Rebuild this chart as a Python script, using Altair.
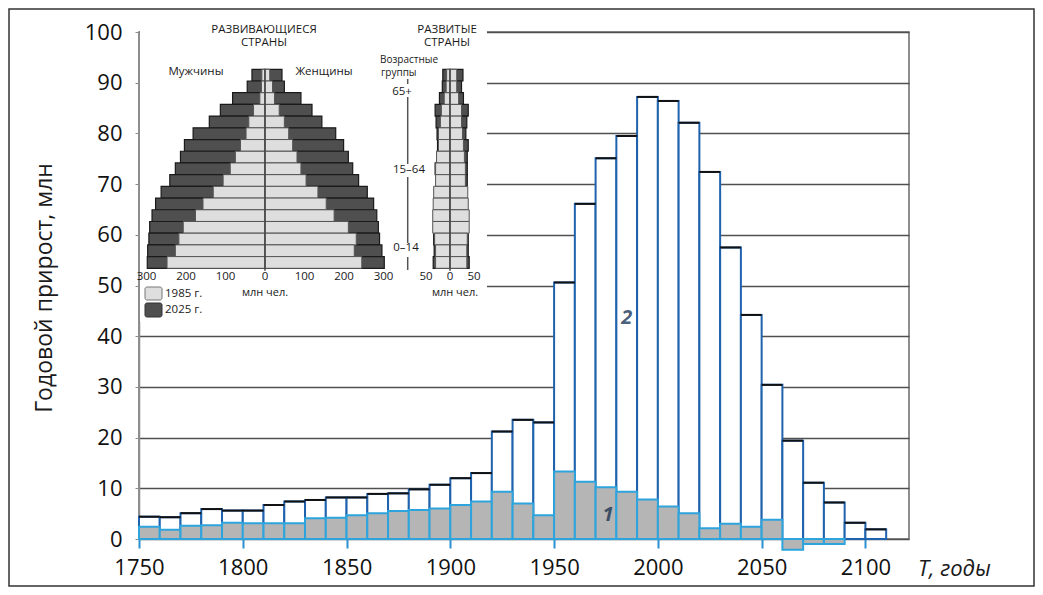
import altair as alt
import pandas as pd

FONT = "Open Sans"

# ---------------- main histogram data (annual growth, mln, by decade) ----------------
decades = list(range(1750, 2110, 10))
total_growth = [4.4, 4.3, 5.1, 5.9, 5.6, 5.6, 6.7, 7.4, 7.7, 8.2, 8.2, 8.9, 9.0, 9.8, 10.7, 12.0, 13.0, 21.2,
                23.5, 23.0, 50.6, 66.1, 75.1, 79.5, 87.2, 86.4, 82.1, 72.4, 57.5, 44.2, 30.4, 19.4, 11.1, 7.2,
                3.2, 1.9]
part_decades = list(range(1750, 2090, 10))
part_growth = [2.4, 1.8, 2.6, 2.7, 3.2, 3.1, 3.1, 3.1, 4.1, 4.2, 4.7, 5.1, 5.5, 5.7, 6.0, 6.7, 7.4, 9.3,
               7.0, 4.7, 13.3, 11.3, 10.2, 9.3, 7.8, 6.4, 5.1, 2.1, 3.0, 2.4, 3.8, -2.1, -1.0, -1.0]
x_ticks = [1750, 1800, 1850, 1900, 1950, 2000, 2050, 2100]
y_ticks = [0, 10, 20, 30, 40, 50, 60, 70, 80, 90, 100]

# ---------------- age pyramids (mln people) ----------------
age_groups = ["80+", "75–79", "70–74", "65–69", "60–64", "55–59", "50–54", "45–49", "40–44",
              "35–39", "30–34", "25–29", "20–24", "15–19", "10–14", "5–9", "0–4"]
devg_m_1985 = [8, 9, 13, 29, 41, 48, 62, 75, 88, 106, 131, 157, 176, 207, 218, 227, 248]
devg_m_2025 = [33, 45, 82, 113, 141, 182, 204, 214, 227, 241, 263, 277, 286, 292, 294, 297, 298]
devg_f_1985 = [12, 19, 24, 36, 49, 60, 70, 81, 91, 104, 134, 155, 175, 211, 231, 226, 245]
devg_f_2025 = [43, 49, 91, 119, 144, 179, 199, 211, 222, 237, 259, 275, 283, 287, 290, 296, 302]

devd_m_1985 = [7, 8, 12, 18, 20, 24, 24, 28, 30, 30, 34, 35, 36, 36, 32, 30, 30]
devd_m_2025 = [15, 16, 22, 31, 29, 27, 26, 27, 31, 27, 30, 31, 33, 32, 34, 33, 35]
devd_f_1985 = [14, 14, 18, 24, 24, 26, 28, 30, 32, 32, 37, 38, 40, 40, 36, 35, 35]
devd_f_2025 = [27, 24, 28, 38, 35, 33, 38, 36, 36, 36, 33, 34, 35, 36, 38, 38, 40]

devg_ticks = [-300, -200, -100, 0, 100, 200, 300]
devd_ticks = [-50, 0, 50]

dummy = pd.DataFrame({"k": [0]})

# ---------------- main chart ----------------
main_df = pd.DataFrame({"start": decades, "end": [d + 10 for d in decades], "value": total_growth})
main_df["base"] = 0
part_df = pd.DataFrame({"start": part_decades, "end": [d + 10 for d in part_decades], "value": part_growth})
part_df["base"] = 0


def xs():
    return alt.Scale(domain=[1750, 2121], nice=False, zero=False)


def ys():
    return alt.Scale(domain=[0, 100], nice=False, zero=False)


x_axis = alt.Axis(values=x_ticks, format="d", title=None, grid=False, domain=False, ticks=True,
                  tickColor="#2b8fd2", tickWidth=2, tickSize=9, labelFont=FONT, labelFontSize=22,
                  labelColor="#111", labelPadding=19, labelBaseline="middle", labelFlush=False,
                  labelOverlap=False)
y_axis = alt.Axis(values=y_ticks, title=None, grid=True, gridColor="#505050", gridWidth=1.5,
                  domain=True, domainColor="#8c8c8c", domainWidth=1.5, ticks=True, tickColor="#8c8c8c",
                  tickSize=4, labelFont=FONT, labelFontSize=22, labelColor="#111", labelPadding=13,
                  labelFlush=False)

outer = alt.Chart(main_df).mark_rect(fill="white", stroke="#1f62ad", strokeWidth=2).encode(
    x=alt.X("start:Q", scale=xs(), axis=x_axis), x2="end",
    y=alt.Y("value:Q", scale=ys(), axis=y_axis), y2="base")
tops = alt.Chart(main_df).mark_rule(color="#111", strokeWidth=2).encode(
    x=alt.X("start:Q", scale=xs(), axis=None), x2="end", y=alt.Y("value:Q", scale=ys(), axis=None))
inner = alt.Chart(part_df).mark_rect(fill="#b5b5b5", stroke="#2ea4dd", strokeWidth=2).encode(
    x=alt.X("start:Q", scale=xs(), axis=None), x2="end",
    y=alt.Y("value:Q", scale=ys(), axis=None), y2="base")
lab2 = alt.Chart(dummy).mark_text(text="2", font=FONT, fontSize=20, fontStyle="italic", fontWeight="bold",
                                  color="#4b607a").encode(x=alt.XDatum(1985, scale=xs(), axis=None),
                                                          y=alt.YDatum(43.6, scale=ys(), axis=None))
lab1 = alt.Chart(dummy).mark_text(text="1", font=FONT, fontSize=20, fontStyle="italic", fontWeight="bold",
                                  color="#3d4f66").encode(x=alt.XDatum(1976, scale=xs(), axis=None),
                                                          y=alt.YDatum(4.7, scale=ys(), axis=None))


# ---------------- pyramids ----------------
def pyramid_df(m85, m25, f85, f25):
    rows = []
    for i, age in enumerate(age_groups):
        rows.append(dict(age=age, row=i, row2=i + 1, year="2025", lo=-m25[i], hi=0))
        rows.append(dict(age=age, row=i, row2=i + 1, year="2025", lo=0, hi=f25[i]))
        rows.append(dict(age=age, row=i, row2=i + 1, year="1985", lo=-m85[i], hi=0))
        rows.append(dict(age=age, row=i, row2=i + 1, year="1985", lo=0, hi=f85[i]))
    return pd.DataFrame(rows)


def pyramid(df, xdomain, xrange, ticks):
    def sx():
        return alt.Scale(domain=xdomain, range=xrange, nice=False, zero=False)

    def sy():
        return alt.Scale(domain=[0, 17], range=[37.3, 236.3], nice=False, zero=False)

    base = alt.Chart(df)
    dark = base.transform_filter(alt.datum.year == "2025").mark_rect(
        fill="#4f4f4f", stroke="#1a1a1a", strokeWidth=1.2).encode(
        x=alt.X("lo:Q", scale=sx(), axis=None), x2="hi",
        y=alt.Y("row:Q", scale=sy(), axis=None), y2="row2")
    light = base.transform_filter(alt.datum.year == "1985").mark_rect(
        fill="#dedede", stroke="#555", strokeWidth=1).encode(
        x=alt.X("lo:Q", scale=sx(), axis=None), x2="hi",
        y=alt.Y("row:Q", scale=sy(), axis=None), y2="row2")
    centre = alt.Chart(dummy).mark_rule(color="#444", strokeWidth=1.5).encode(
        x=alt.XDatum(0, scale=sx(), axis=None), y=alt.YDatum(0, scale=sy(), axis=None),
        y2=alt.Y2Datum(17.2))
    tdf = pd.DataFrame({"v": ticks, "lab": [str(abs(t)) for t in ticks]})
    tlabels = alt.Chart(tdf).mark_text(font=FONT, fontSize=11.5, color="#1a1a1a").encode(
        x=alt.X("v:Q", scale=sx(), axis=None), y=alt.YDatum(17.75, scale=sy(), axis=None), text="lab:N")
    return [dark, light, centre, tlabels]


devg = pyramid(pyramid_df(devg_m_1985, devg_m_2025, devg_f_1985, devg_f_2025), [-300, 300], [7.5, 244.5],
               devg_ticks)
devd = pyramid(pyramid_df(devd_m_1985, devd_m_2025, devd_f_1985, devd_f_2025), [-50, 50], [287, 335],
               devd_ticks)


# ---------------- decorations and texts ----------------
def txt(s, x, y, size=11.5, align="center", baseline="middle", **kw):
    return alt.Chart(dummy).mark_text(text=s, font=FONT, fontSize=size, align=align, baseline=baseline,
                                      color="#1a1a1a", **kw).encode(x=alt.value(x), y=alt.value(y))


def box(x, x2, y, y2, **kw):
    return alt.Chart(dummy).mark_rect(**kw).encode(x=alt.value(x), x2=alt.value(x2),
                                                   y=alt.value(y), y2=alt.value(y2))


def vline(x, y, y2):
    return alt.Chart(dummy).mark_rule(color="#555", strokeWidth=1.5).encode(
        x=alt.value(x), y=alt.value(y), y2=alt.value(y2))


frame = box(-130, 895, -23, 554, fill="white", fillOpacity=0, stroke="#333", strokeWidth=1.5)
panel = box(1, 348, -17, 290, fill="white")

texts = [
    txt("РАЗВИВАЮЩИЕСЯ", 125, -2),
    txt("СТРАНЫ", 125, 11),
    txt("РАЗВИТЫЕ", 308, -2),
    txt("СТРАНЫ", 308, 11),
    txt("Мужчины", 57, 40),
    txt("Женщины", 185, 40),
    txt("Возрастные", 241, 27.5, size=10, align="left"),
    txt("группы", 242, 41, size=10, align="left"),
    txt("65+", 263, 60),
    txt("15–64", 270, 138),
    txt("0–14", 267, 216),
    txt("млн чел.", 126, 261, size=11),
    txt("млн чел.", 316, 261, size=11),
    txt("1985 г.", 26, 262, align="left"),
    txt("2025 г.", 26, 278, align="left"),
    txt("T, годы", 779, 537, size=22, align="left", fontStyle="italic"),
    txt("Годовой прирост, млн", -87, 256, size=23, baseline="alphabetic", angle=270),
]
legend = [
    box(6, 23, 255, 268, fill="#dedede", stroke="#777", strokeWidth=1, cornerRadius=2),
    box(6, 23, 271, 285, fill="#4f4f4f", stroke="#333", strokeWidth=1, cornerRadius=2),
]
bracket = [vline(268.7, 47, 52), vline(268.7, 65, 132), vline(268.7, 145, 211), vline(268.7, 225, 238)]

chart = alt.layer(outer, frame, panel, tops, inner, lab2, lab1, *devg, *devd, *legend, *bracket,
                  *texts).resolve_scale(
    x="independent", y="independent"
).properties(
    width=770, height=507,
    padding={"left": 131, "top": 24, "right": 126, "bottom": 48},
    autosize=alt.AutoSizeParams(type="none"),
).configure_view(stroke="#6b6b6b", strokeWidth=1.5)

chart.save("out.html", embed_options={"renderer": "svg", "actions": False})
